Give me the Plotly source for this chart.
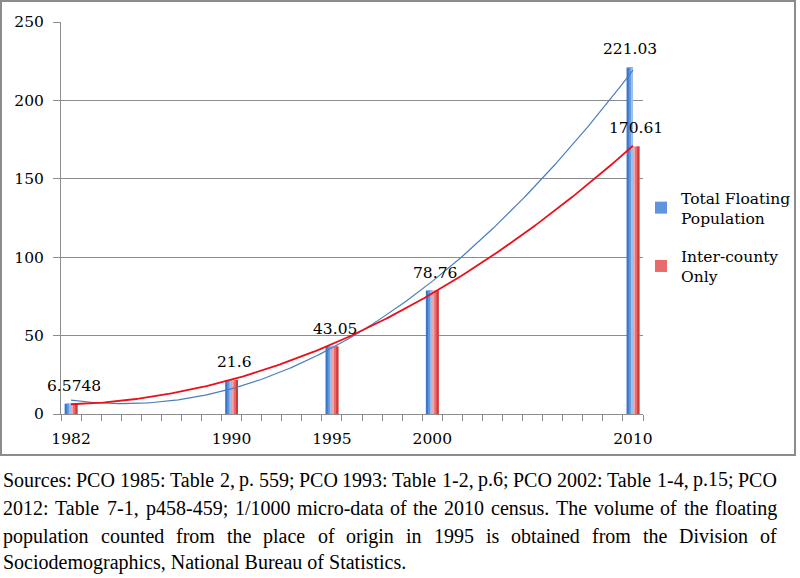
import numpy as np
import plotly.graph_objects as go

# ---------------- data ----------------
years = [1982, 1990, 1995, 2000, 2010]
total_floating = [6.5748, 21.6, 43.05, 78.76, 221.03]
inter_county = [6.5748, 21.6, 43.05, 78.76, 170.61]
total_labels = ["", "", "", "", "221.03"]
inter_labels = ["6.5748", "21.6", "43.05", "78.76", "170.61"]
y_ticks = [0, 50, 100, 150, 200, 250]
x_tick_labels = ["1982", "1990", "1995", "2000", "2010"]
series_names = ["Total Floating<br>Population", "Inter-county<br>Only"]
source_lines = [
    "Sources: PCO 1985: Table 2, p. 559; PCO 1993: Table 1-2, p.6; PCO 2002: Table 1-4, p.15; PCO",
    "2012: Table 7-1, p458-459; 1/1000 micro-data of the 2010 census. The volume of the floating",
    "population counted from the place of origin in 1995 is obtained from the Division of",
    "Sociodemographics, National Bureau of Statistics.",
]

# ---------------- layout geometry ----------------
W_FIG, H_FIG = 800, 578
L, R, T, B = 61, 157, 22, 164
PW = W_FIG - L - R
PH = H_FIG - T - B


def px_x(px):
    return (px - L) / PW


def px_y(py):
    return (H_FIG - B - py) / PH


CHART_FONT = "DejaVu Serif"
FS = 15.5
GRAY = "#8c8c8c"

fig = go.Figure()

# bars drawn as overlapping vertical strips to mimic the gradient fill
bar_w = 0.32
blue_strips = ["#3b76c9", "#5f95de", "#9dc0f1"]
red_strips = ["#f5a3a3", "#e86a6a", "#cf3b3b"]
n_s = 3
sw = bar_w / n_s
for i, c in enumerate(blue_strips):
    fig.add_trace(go.Bar(
        x=years, y=total_floating, width=bar_w - i * sw, offset=-bar_w + i * sw,
        marker=dict(color=c, line=dict(width=0)),
        name=series_names[0], legendgroup="total",
        showlegend=(i == 1), hoverinfo="skip"))
for i, c in enumerate(red_strips):
    fig.add_trace(go.Bar(
        x=years, y=inter_county, width=bar_w - i * sw, offset=i * sw,
        marker=dict(color=c, line=dict(width=0)),
        name=series_names[1], legendgroup="inter",
        showlegend=(i == 1), hoverinfo="skip"))

# polynomial (order 2) trendlines
xs = np.linspace(years[0], years[-1], 200)
cb = np.polyfit(years, total_floating, 2)
cr = np.polyfit(years, inter_county, 2)
fig.add_trace(go.Scatter(x=xs, y=np.polyval(cb, xs), mode="lines",
                         line=dict(color="#4a7ebb", width=1.2),
                         showlegend=False, hoverinfo="skip"))
fig.add_trace(go.Scatter(x=xs, y=np.polyval(cr, xs), mode="lines",
                         line=dict(color="#e8101a", width=1.8),
                         showlegend=False, hoverinfo="skip"))

# data labels
annotations = []
for yr, v, t in zip(years, total_floating, total_labels):
    if t:
        annotations.append(dict(x=yr - bar_w / 2, y=v, text=t, showarrow=False,
                                yshift=18, yanchor="middle", xanchor="center",
                                font=dict(family=CHART_FONT, size=FS, color="black")))
for yr, v, t in zip(years, inter_county, inter_labels):
    if t:
        annotations.append(dict(x=yr + bar_w / 2, y=v, text=t, showarrow=False,
                                yshift=18, yanchor="middle", xanchor="center",
                                font=dict(family=CHART_FONT, size=FS, color="black")))

# source note, justified word by word (Times metrics)
TNR = {' ': 250, ',': 250, '-': 333, '.': 250, '/': 278, ':': 278, ';': 278,
       'A': 722, 'B': 667, 'C': 667, 'D': 722, 'E': 611, 'F': 556, 'G': 722, 'H': 722,
       'I': 333, 'J': 389, 'K': 722, 'L': 611, 'M': 889, 'N': 722, 'O': 722, 'P': 556,
       'Q': 722, 'R': 667, 'S': 556, 'T': 611, 'U': 722, 'V': 722, 'W': 944, 'X': 722,
       'Y': 722, 'Z': 611,
       'a': 444, 'b': 500, 'c': 444, 'd': 500, 'e': 444, 'f': 333, 'g': 500, 'h': 500,
       'i': 278, 'j': 278, 'k': 500, 'l': 278, 'm': 778, 'n': 500, 'o': 500, 'p': 500,
       'q': 500, 'r': 333, 's': 389, 't': 278, 'u': 500, 'v': 500, 'w': 722, 'x': 500,
       'y': 500, 'z': 444}
SRC_FS = 20
SRC_FONT = "Liberation Serif"


def tw(s):
    return sum(TNR.get(ch, 500) for ch in s) / 1000.0 * SRC_FS


left_px, right_px = 3, 777
line_y = [480, 508, 536, 562]
for li, line in enumerate(source_lines):
    yp = px_y(line_y[li])
    if li < len(source_lines) - 1:
        words = line.split(" ")
        total = sum(tw(w) for w in words)
        gap = (right_px - left_px - total) / (len(words) - 1)
        xcur = left_px
        for w in words:
            annotations.append(dict(x=px_x(xcur), y=yp, xref="paper", yref="paper",
                                    text=w, showarrow=False, xanchor="left", yanchor="middle",
                                    borderpad=0, borderwidth=0,
                                    font=dict(family=SRC_FONT, size=SRC_FS, color="black")))
            xcur += tw(w) + gap
    else:
        annotations.append(dict(x=px_x(left_px), y=yp, xref="paper", yref="paper",
                                text=line, showarrow=False, xanchor="left", yanchor="middle",
                                borderpad=0, borderwidth=0,
                                font=dict(family=SRC_FONT, size=SRC_FS, color="black")))

fig.update_layout(
    width=W_FIG, height=H_FIG,
    margin=dict(l=L, r=R, t=T, b=B, pad=0, autoexpand=False),
    paper_bgcolor="white", plot_bgcolor="white",
    barmode="overlay",
    font=dict(family=CHART_FONT, size=FS, color="black"),
    annotations=annotations,
    legend=dict(x=px_x(641), y=px_y(181), xanchor="left", yanchor="top",
                bgcolor="rgba(0,0,0,0)", font=dict(family=CHART_FONT, size=FS, color="black"),
                tracegroupgap=15, itemwidth=30),
    shapes=[dict(type="rect", xref="paper", yref="paper",
                 x0=px_x(1), x1=px_x(795), y0=px_y(455), y1=px_y(1),
                 line=dict(color=GRAY, width=2), layer="below")],
    xaxis=dict(range=[1981.5, 2010.5], tickmode="array", tickvals=years,
               ticktext=x_tick_labels, ticks="", ticklen=0, ticklabelstandoff=10,
               showgrid=False, zeroline=False, showline=True, linecolor=GRAY, linewidth=1,
               automargin=False,
               minor=dict(ticks="outside", tick0=1981.5, dtick=1, ticklen=6,
                          tickcolor=GRAY, showgrid=False),
               tickfont=dict(family=CHART_FONT, size=FS, color="black")),
    yaxis=dict(range=[0, 250], tickmode="array", tickvals=y_ticks,
               ticks="outside", ticklen=7, tickcolor=GRAY, ticklabelstandoff=6,
               showgrid=True, gridcolor=GRAY, gridwidth=1, zeroline=False,
               showline=True, linecolor=GRAY, linewidth=1, automargin=False,
               tickfont=dict(family=CHART_FONT, size=FS, color="black")),
)

fig.write_html("out.html", config={"displayModeBar": False},
               post_script="document.body.style.margin='0';document.body.style.padding='0';")
